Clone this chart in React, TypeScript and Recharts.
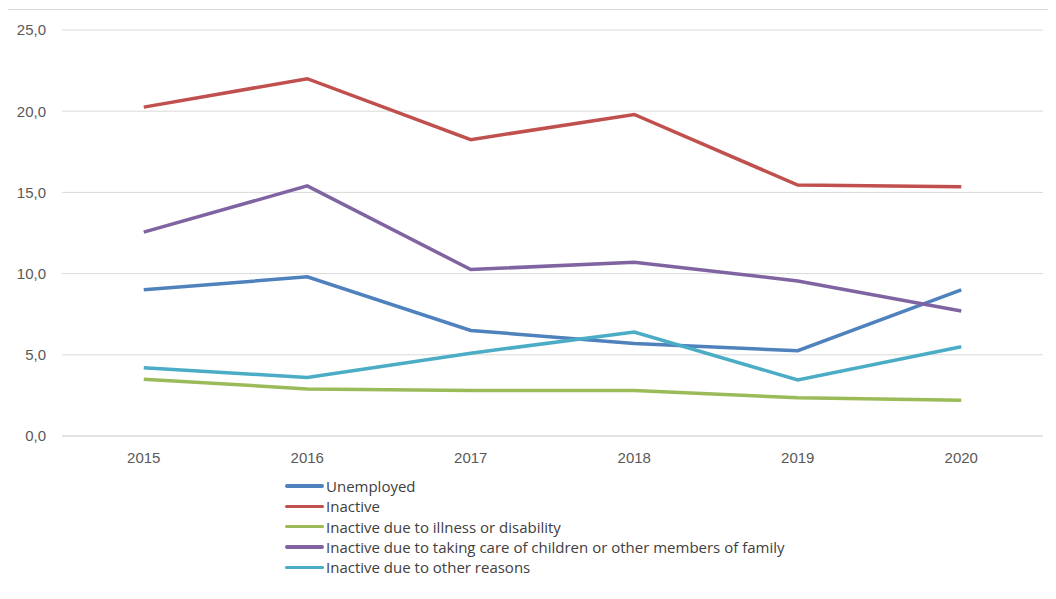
import { CartesianGrid, Line, LineChart, XAxis, YAxis } from 'recharts'

const years = ['2015', '2016', '2017', '2018', '2019', '2020']

const unemployed = [9.0, 9.8, 6.5, 5.7, 5.25, 9.0]
const inactive = [20.25, 22.0, 18.25, 19.8, 15.45, 15.35]
const illness = [3.5, 2.9, 2.8, 2.8, 2.35, 2.2]
const careOfFamily = [12.55, 15.4, 10.25, 10.7, 9.55, 7.7]
const otherReasons = [4.2, 3.6, 5.1, 6.4, 3.45, 5.5]

const yTicks = [0, 5, 10, 15, 20, 25]

const series = [
  { key: 'unemployed', name: 'Unemployed', color: '#4f81bd', values: unemployed },
  { key: 'inactive', name: 'Inactive', color: '#c0504d', values: inactive },
  { key: 'illness', name: 'Inactive due to illness or disability', color: '#9bbb59', values: illness },
  {
    key: 'care',
    name: 'Inactive due to taking care of children or other members of family',
    color: '#8064a2',
    values: careOfFamily,
  },
  { key: 'other', name: 'Inactive due to other reasons', color: '#4bacc6', values: otherReasons },
]

const data = years.map((year, i) => {
  const row: Record<string, string | number> = { year }
  series.forEach((s) => {
    row[s.key] = s.values[i]
  })
  return row
})

const tickFont = '"Liberation Sans", Arial, sans-serif'
const legendFont = '"Open Sans", sans-serif'

export default function App() {
  return (
    <div style={{ margin: -8, position: 'relative', width: 1056, height: 599, overflow: 'hidden', background: '#fff' }}>
      <div
        style={{
          position: 'absolute',
          left: 7,
          top: 9,
          width: 1100,
          height: 700,
          border: '1px solid #d9d9d9',
        }}
      />
      <div style={{ position: 'absolute', left: 0, top: 0 }}>
        <LineChart width={1056} height={599} data={data} margin={{ top: 30, right: 13, bottom: 133, left: 0 }}>
          <CartesianGrid vertical={false} stroke="#d9d9d9" strokeWidth={1} />
          <XAxis
            dataKey="year"
            height={30}
            padding={{ left: 81.75, right: 81.75 }}
            axisLine={{ stroke: '#d9d9d9' }}
            tickLine={false}
            tickMargin={10}
            tick={{ fill: '#595959', fontSize: 15, fontFamily: tickFont }}
          />
          <YAxis
            width={62}
            domain={[0, 25]}
            ticks={yTicks}
            axisLine={false}
            tickLine={false}
            tickSize={0}
            tickMargin={16}
            tickFormatter={(v: number) => v.toFixed(1).replace('.', ',')}
            tick={{ fill: '#595959', fontSize: 15, fontFamily: tickFont }}
          />
          {series.map((s) => (
            <Line
              key={s.key}
              type="linear"
              dataKey={s.key}
              name={s.name}
              stroke={s.color}
              strokeWidth={3.5}
              dot={false}
              activeDot={false}
              isAnimationActive={false}
            />
          ))}
        </LineChart>
      </div>
      <div
        style={{
          position: 'absolute',
          left: 285,
          top: 476,
          fontFamily: legendFont,
          fontSize: 15,
          color: '#404040',
        }}
      >
        {series.map((s) => (
          <div key={s.key} style={{ display: 'flex', alignItems: 'center', height: 20.3, whiteSpace: 'nowrap' }}>
            <span
              style={{
                display: 'inline-block',
                width: 39,
                height: 3.5,
                background: s.color,
                marginRight: 2,
                borderRadius: 2,
              }}
            />
            <span>{s.name}</span>
          </div>
        ))}
      </div>
    </div>
  )
}
